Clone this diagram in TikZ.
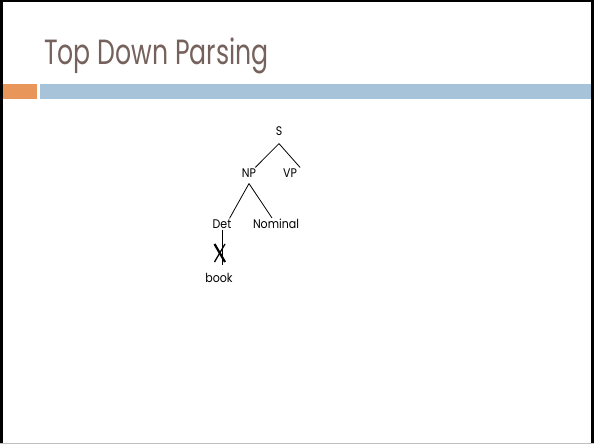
\documentclass[tikz,border=0pt]{standalone}
\usepackage{fontspec}
\setmainfont{Poppins}
\newfontfamily\titlefont[FakeStretch=0.72]{Poppins}
\newfontfamily\treefont[FakeStretch=0.88]{Poppins}
\definecolor{titlebrown}{HTML}{76625C}
\definecolor{accentorange}{HTML}{E9965A}
\definecolor{accentblue}{HTML}{A6C3DA}
\begin{document}
\begin{tikzpicture}[x=1pt,y=-1pt,
  lbl/.style={font=\treefont\fontsize{12.5}{14}\selectfont, inner sep=1pt},
  branch/.style={line width=0.8pt}]
\useasboundingbox (0,0) rectangle (594,444);
\fill[white] (0,0) rectangle (594,444);
% slide frame
\fill[black] (0,0) rectangle (3,444);
\fill[black] (0,0) rectangle (594,2);
\fill[black] (591,0) rectangle (593.5,443);
\fill[black!25] (0,443) rectangle (594,444);
% title rule
\fill[accentorange] (3,83.5) rectangle (37,99);
\fill[accentblue] (40,83.5) rectangle (591,99);
% title
\node[anchor=base west, text=titlebrown, inner sep=0,
      font=\titlefont\fontsize{35}{40}\selectfont] (title) at (44,65) {Top Down Parsing};
% parse tree
\node[lbl] (S) at (279,131) {S};
\node[lbl] (NP) at (249,173) {NP};
\node[lbl] (VP) at (290,173) {VP};
\node[lbl] (Det) at (222,224) {Det};
\node[lbl] (Nominal) at (276,224) {Nominal};
\node[lbl] (book) at (219,278) {book};
\draw[branch] ([yshift=-7pt]S.south) -- ([xshift=-2pt,yshift=0pt]NP.north east);
\draw[branch] ([yshift=-7pt]S.south) -- ([xshift=2pt,yshift=0pt]VP.north east);
\draw[branch] ([yshift=-5pt]NP.south) -- ([xshift=-3pt,yshift=0pt]Det.north east);
\draw[branch] ([yshift=-5pt]NP.south) -- ([xshift=-4pt,yshift=0pt]Nominal.north);
\draw[branch] (Det.south) -- ([yshift=7pt]Det.south |- book.north);
% rejected expansion
\draw[line width=2.2pt] (214.5,244) -- (225,262);
\draw[line width=1.3pt] (225,244) -- (214.5,262);
\end{tikzpicture}
\end{document}
